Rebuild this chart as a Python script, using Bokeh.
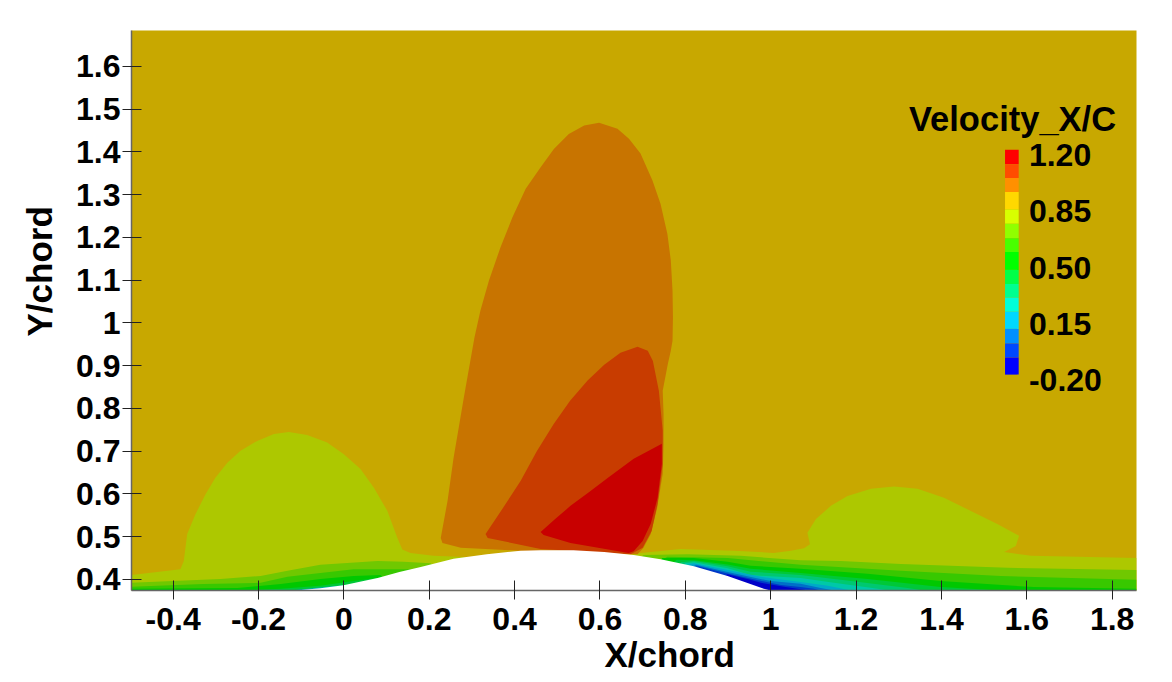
from bokeh.core.properties import value
from bokeh.embed import file_html
from bokeh.models import NumeralTickFormatter, Range1d, Title
from bokeh.plotting import figure
from bokeh.resources import INLINE

FONT = "Liberation Sans"

x_ticks = [-0.4, -0.2, 0, 0.2, 0.4, 0.6, 0.8, 1, 1.2, 1.4, 1.6, 1.8]
y_ticks = [0.4, 0.5, 0.6, 0.7, 0.8, 0.9, 1, 1.1, 1.2, 1.3, 1.4, 1.5, 1.6]

x_min, x_max = -0.4975, 1.857
y_min, y_max = 0.374, 1.684

# contour outlines, in chord units, lowest level first
bubble_left_x = [-0.4975, -0.383, -0.375, -0.367, -0.348, -0.324, -0.301, -0.273, -0.242, -0.203, -0.164, -0.129, -0.086, -0.039, 0.0, 0.039, 0.070, 0.102, 0.125, 0.137, 0.156, 0.210, 0.297, 0.297, -0.4975]
bubble_left_y = [0.410, 0.424, 0.443, 0.506, 0.552, 0.599, 0.638, 0.673, 0.701, 0.724, 0.740, 0.745, 0.738, 0.720, 0.693, 0.658, 0.615, 0.560, 0.498, 0.470, 0.462, 0.455, 0.452, 0.374, 0.374]
bubble_right_x = [0.660, 0.679, 0.789, 0.913, 1.007, 1.047, 1.078, 1.092, 1.086, 1.106, 1.141, 1.180, 1.235, 1.289, 1.344, 1.406, 1.469, 1.532, 1.582, 1.574, 1.547, 1.610, 1.857, 1.857, 0.660]
bubble_right_y = [0.443, 0.460, 0.471, 0.467, 0.462, 0.467, 0.473, 0.482, 0.509, 0.541, 0.572, 0.595, 0.612, 0.617, 0.612, 0.591, 0.560, 0.529, 0.502, 0.478, 0.464, 0.455, 0.450, 0.374, 0.374]

peak_1_x = [0.227, 0.231, 0.274, 0.414, 0.679, 0.688, 0.702, 0.719, 0.734, 0.747, 0.749, 0.749, 0.747, 0.759, 0.766, 0.770, 0.771, 0.770, 0.766, 0.758, 0.742, 0.723, 0.695, 0.668, 0.641, 0.598, 0.563, 0.527, 0.492, 0.461, 0.426, 0.395, 0.367, 0.340, 0.320, 0.306, 0.281, 0.269, 0.257, 0.243]
peak_1_y = [0.497, 0.485, 0.474, 0.467, 0.459, 0.459, 0.474, 0.506, 0.567, 0.647, 0.717, 0.787, 0.841, 0.904, 0.935, 0.958, 1.013, 1.075, 1.146, 1.208, 1.278, 1.333, 1.396, 1.431, 1.454, 1.468, 1.462, 1.442, 1.407, 1.364, 1.314, 1.247, 1.177, 1.099, 1.029, 0.966, 0.825, 0.754, 0.684, 0.584]
peak_2_x = [0.332, 0.337, 0.461, 0.672, 0.700, 0.721, 0.735, 0.747, 0.747, 0.738, 0.724, 0.712, 0.688, 0.648, 0.610, 0.571, 0.530, 0.492, 0.452, 0.414, 0.372]
peak_2_y = [0.506, 0.497, 0.471, 0.459, 0.474, 0.513, 0.577, 0.670, 0.748, 0.841, 0.911, 0.935, 0.944, 0.930, 0.902, 0.865, 0.818, 0.764, 0.700, 0.630, 0.566]
peak_3_x = [0.461, 0.468, 0.531, 0.667, 0.679, 0.700, 0.719, 0.735, 0.745, 0.745, 0.679, 0.618, 0.574, 0.531, 0.495]
peak_3_y = [0.511, 0.504, 0.485, 0.462, 0.466, 0.490, 0.530, 0.591, 0.670, 0.717, 0.682, 0.637, 0.604, 0.572, 0.541]

left_1_x = [-0.4975, -0.289, -0.195, -0.132, -0.055, 0.079, 0.140, 0.203, 0.227, 0.227, -0.4975]
left_1_y = [0.392, 0.401, 0.408, 0.420, 0.434, 0.443, 0.441, 0.438, 0.420, 0.374, 0.374]
left_2_x = [-0.4975, -0.329, -0.195, -0.132, -0.055, 0.023, 0.102, 0.156, 0.168, 0.168, -0.4975]
left_2_y = [0.383, 0.389, 0.392, 0.406, 0.415, 0.424, 0.424, 0.424, 0.408, 0.374, 0.374]
left_3_x = [-0.4975, -0.249, -0.148, -0.055, 0.023, 0.086, 0.098, 0.098, -0.4975]
left_3_y = [0.378, 0.380, 0.389, 0.401, 0.408, 0.410, 0.396, 0.374, 0.374]
left_4_x = [-0.242, -0.148, -0.055, 0.023, 0.079, 0.086, 0.086]
left_4_y = [0.374, 0.378, 0.385, 0.396, 0.403, 0.385, 0.374]
left_5_x = [-0.125, -0.055, 0.0, 0.0]
left_5_y = [0.374, 0.381, 0.386, 0.374]

right_1_x = [0.672, 0.702, 0.805, 0.930, 1.070, 1.164, 1.305, 1.555, 1.857, 1.857, 0.672]
right_1_y = [0.431, 0.457, 0.459, 0.455, 0.445, 0.443, 0.436, 0.427, 0.422, 0.374, 0.374]
right_2_x = [0.719, 0.758, 0.899, 1.070, 1.305, 1.539, 1.857, 1.857, 0.719]
right_2_y = [0.431, 0.453, 0.450, 0.434, 0.420, 0.408, 0.399, 0.374, 0.374]
right_3_x = [0.742, 0.745, 0.820, 0.899, 0.953, 1.070, 1.227, 1.398, 1.617, 1.857, 1.857, 0.742]
right_3_y = [0.430, 0.450, 0.450, 0.441, 0.432, 0.425, 0.413, 0.396, 0.382, 0.378, 0.374, 0.374]
right_4_x = [0.760, 0.780, 0.820, 0.899, 0.953, 1.070, 1.227, 1.398, 1.539, 0.760]
right_4_y = [0.430, 0.446, 0.445, 0.435, 0.425, 0.415, 0.401, 0.382, 0.374, 0.374]
right_5_x = [0.780, 0.790, 0.820, 0.899, 0.953, 1.070, 1.188, 1.321, 1.359, 0.780]
right_5_y = [0.420, 0.440, 0.443, 0.431, 0.418, 0.410, 0.396, 0.380, 0.374, 0.374]
right_6_x = [0.785, 0.800, 0.820, 0.899, 0.953, 1.070, 1.148, 1.251, 1.275, 0.785]
right_6_y = [0.420, 0.438, 0.440, 0.426, 0.410, 0.403, 0.392, 0.378, 0.374, 0.374]
right_7_x = [0.790, 0.810, 0.820, 0.899, 0.977, 1.070, 1.134, 1.188, 0.790]
right_7_y = [0.420, 0.436, 0.438, 0.422, 0.406, 0.394, 0.385, 0.374, 0.374]
right_8_x = [0.800, 0.825, 0.899, 1.000, 1.070, 1.117, 1.148, 0.800]
right_8_y = [0.420, 0.434, 0.417, 0.396, 0.390, 0.380, 0.374, 0.374]
right_9_x = [0.800, 0.830, 0.899, 0.965, 1.024, 1.070, 1.101, 1.117, 0.800]
right_9_y = [0.420, 0.431, 0.414, 0.399, 0.387, 0.382, 0.378, 0.374, 0.374]
right_10_x = [0.870, 0.899, 0.950, 0.977, 1.035, 1.082, 1.117, 0.870]
right_10_y = [0.395, 0.412, 0.400, 0.392, 0.382, 0.375, 0.374, 0.374]

wall_x = [-0.113, -0.055, -0.001, 0.079, 0.130, 0.180, 0.257, 0.335, 0.414, 0.461, 0.538, 0.610, 0.679, 0.742, 0.820, 0.899, 0.984, 1.000]
wall_y = [0.374, 0.379, 0.386, 0.403, 0.417, 0.429, 0.448, 0.459, 0.467, 0.468, 0.468, 0.464, 0.457, 0.447, 0.431, 0.408, 0.378, 0.374]

legend_title = "Velocity_X/C"
legend_labels = ["1.20", "0.85", "0.50", "0.15", "-0.20"]
legend_label_y = [1.392, 1.262, 1.129, 0.998, 0.867]
legend_colors = ["#ff0000", "#ff4c00", "#ff9000", "#ffd800", "#d8ff00", "#90ff00", "#48ff00", "#00ff00", "#00ff48", "#00ff90", "#00ffd8", "#00d8ff", "#0090ff", "#0048ff", "#0000ff"]
legend_edges = [1.405, 1.371, 1.339, 1.306, 1.265, 1.232, 1.198, 1.166, 1.124, 1.091, 1.059, 1.026, 0.986, 0.952, 0.919, 0.879]

p = figure(
    width=1164,
    height=673,
    x_range=Range1d(x_min, x_max),
    y_range=Range1d(y_min, y_max),
    output_backend="svg",
    toolbar_location=None,
    min_border_left=131,
    min_border_right=28,
    min_border_top=30,
    min_border_bottom=83,
)
p.background_fill_color = "#c8a800"
p.border_fill_color = "white"
p.outline_line_color = None
p.grid.visible = False

shapes = [
    (bubble_left_x, bubble_left_y, "#adc800"),
    (bubble_right_x, bubble_right_y, "#adc800"),
    (peak_1_x, peak_1_y, "#c87400"),
    (peak_2_x, peak_2_y, "#c83c00"),
    (peak_3_x, peak_3_y, "#c80000"),
    (left_1_x, left_1_y, "#70c800"),
    (left_2_x, left_2_y, "#38c800"),
    (left_3_x, left_3_y, "#00c800"),
    (left_4_x, left_4_y, "#00c838"),
    (left_5_x, left_5_y, "#00a8c8"),
    (right_1_x, right_1_y, "#70c800"),
    (right_2_x, right_2_y, "#38c800"),
    (right_3_x, right_3_y, "#00c800"),
    (right_4_x, right_4_y, "#00c838"),
    (right_5_x, right_5_y, "#00c870"),
    (right_6_x, right_6_y, "#00c8a8"),
    (right_7_x, right_7_y, "#00a8c8"),
    (right_8_x, right_8_y, "#0070c8"),
    (right_9_x, right_9_y, "#0038c8"),
    (right_10_x, right_10_y, "#0000c8"),
    (wall_x, wall_y, "white"),
]
for xs, ys, color in shapes:
    p.patch(xs, ys, fill_color=color, line_color=None)

# legend sits inside the plot area, so it goes on in data units too
p.quad(
    left=1.549,
    right=1.581,
    top=legend_edges[:-1],
    bottom=legend_edges[1:],
    fill_color=legend_colors,
    line_color=None,
)
p.text(
    x=[1.605] * len(legend_labels),
    y=legend_label_y,
    text=legend_labels,
    text_font=value(FONT),
    text_font_style="bold",
    text_font_size="32px",
    text_baseline="middle",
    text_color="black",
)
p.text(
    x=[1.324],
    y=[1.478],
    text=[legend_title],
    text_font=value(FONT),
    text_font_style="bold",
    text_font_size="34.5px",
    text_baseline="middle",
    text_color="black",
)

for axis, ticks in ((p.xaxis, x_ticks), (p.yaxis, y_ticks)):
    axis.ticker = ticks
    axis.formatter = NumeralTickFormatter(format="0.[0]")
    axis.major_tick_in = 10
    axis.major_tick_out = 9
    axis.minor_tick_line_color = None
    axis.major_tick_line_color = "#222222"
    axis.axis_line_color = "#666666"
    axis.axis_line_width = 1.5
    axis.major_label_text_font = FONT
    axis.major_label_text_font_style = "bold"
    axis.major_label_text_font_size = "32px"
    axis.major_label_text_color = "black"
p.yaxis.major_label_standoff = 2
p.xaxis.major_label_standoff = 8

# the axis titles are off centre in the original, axis_label can't be moved along the axis
p.add_layout(Title(text="X/chord", text_font=FONT, text_font_style="bold", text_font_size="35px",
                   text_color="black", align="left", offset=473, standoff=0), "below")
p.add_layout(Title(text="Y/chord", text_font=FONT, text_font_style="bold", text_font_size="35px",
                   text_color="black", align="left", offset=254, standoff=30), "left")

open("out.html", "w").write(file_html(p, INLINE))
